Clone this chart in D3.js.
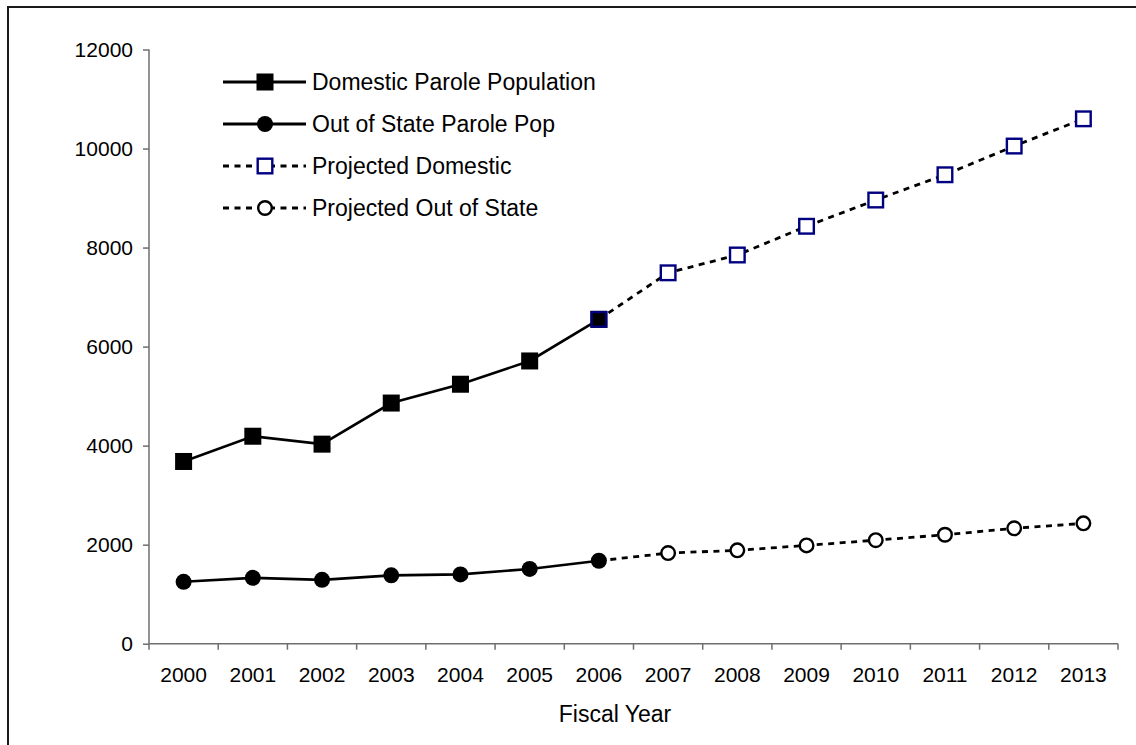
<!DOCTYPE html>
<html>
<head>
<meta charset="utf-8">
<script src="https://cdn.jsdelivr.net/npm/d3@7"></script>
<style>
  html, body { margin: 0; padding: 0; background: #fff; }
  svg { display: block; }
  text { font-family: "Liberation Sans", Arial, sans-serif; fill: #000; }
</style>
</head>
<body>
<svg id="chart" width="1136" height="745"></svg>
<script>
// ---- data ----
const years = ["2000","2001","2002","2003","2004","2005","2006","2007","2008","2009","2010","2011","2012","2013"];
const domestic      = [3680, 4190, 4030, 4860, 5240, 5710, 6550, null, null, null, null, null, null, null];
const outOfState    = [1250, 1330, 1290, 1380, 1400, 1510, 1675, null, null, null, null, null, null, null];
const projDomestic  = [null, null, null, null, null, null, 6550, 7490, 7850, 8430, 8960, 9470, 10050, 10600];
const projOutState  = [null, null, null, null, null, null, 1675, 1830, 1885, 1985, 2090, 2200, 2330, 2430];
const yTicks = [0, 2000, 4000, 6000, 8000, 10000, 12000];
const legendLabels = ["Domestic Parole Population", "Out of State Parole Pop", "Projected Domestic", "Projected Out of State"];
const xTitle = "Fiscal Year";

// ---- layout ----
const svg = d3.select("#chart");
const pLeft = 149, pRight = 1118, pTop = 49.5, pBottom = 643.7;
const TICKFONT = 21, LEGFONT = 23;

// outer frame
svg.append("rect").attr("x", 8).attr("y", 7).attr("width", 1200).attr("height", 800)
  .attr("fill", "none").attr("stroke", "#1a1a1a").attr("stroke-width", 2);

const x = d3.scaleBand().domain(years).range([pLeft, pRight]).paddingInner(0).paddingOuter(0);
const y = d3.scaleLinear().domain([0, 12000]).range([pBottom, pTop]);
const cx = d => x(d) + x.bandwidth() / 2;

const axisColor = "#6e6e6e";

// y axis
const gy = svg.append("g").attr("transform", `translate(${pLeft},0)`)
  .call(d3.axisLeft(y).tickValues(yTicks).tickSize(6).tickPadding(10).tickFormat(d3.format("d")));
gy.select("path.domain").remove();
gy.selectAll(".tick line").attr("stroke", axisColor).attr("stroke-width", 1.5);
gy.selectAll(".tick text").attr("font-size", TICKFONT).attr("font-family", "Liberation Sans, Arial, sans-serif").attr("fill", "#000");
gy.append("line").attr("x1", 0).attr("x2", 0).attr("y1", pTop).attr("y2", pBottom)
  .attr("stroke", axisColor).attr("stroke-width", 1.5);

// x axis (labels at band centres, ticks at band boundaries)
const gx = svg.append("g").attr("transform", `translate(0,${pBottom})`)
  .call(d3.axisBottom(x).tickSize(0).tickPadding(23));
gx.select("path.domain").remove();
gx.selectAll(".tick text").attr("font-size", TICKFONT).attr("font-family", "Liberation Sans, Arial, sans-serif").attr("fill", "#000");
gx.append("line").attr("x1", pLeft).attr("x2", pRight).attr("y1", 0).attr("y2", 0)
  .attr("stroke", axisColor).attr("stroke-width", 1.5);
const boundaries = years.map(d => x(d)).concat([x(years[years.length - 1]) + x.bandwidth()]);
gx.selectAll("line.btick").data(boundaries).enter().append("line").attr("class", "btick")
  .attr("x1", d => d).attr("x2", d => d).attr("y1", 0).attr("y2", 6)
  .attr("stroke", axisColor).attr("stroke-width", 1.5);

// x title
svg.append("text").attr("x", 615).attr("y", 722).attr("text-anchor", "middle")
  .attr("font-size", LEGFONT).text(xTitle);

// ---- lines ----
const mk = arr => years.map((yr, i) => ({ yr, v: arr[i], i }));
const lineGen = d3.line().defined(d => d.v != null).x(d => cx(d.yr)).y(d => y(d.v));

const DASH = "6,5.5";
svg.append("path").datum(mk(projDomestic)).attr("d", lineGen)
  .attr("fill", "none").attr("stroke", "#000").attr("stroke-width", 2.8).attr("stroke-dasharray", DASH);
svg.append("path").datum(mk(projOutState)).attr("d", lineGen)
  .attr("fill", "none").attr("stroke", "#000").attr("stroke-width", 2.8).attr("stroke-dasharray", DASH);
svg.append("path").datum(mk(domestic)).attr("d", lineGen)
  .attr("fill", "none").attr("stroke", "#000").attr("stroke-width", 2.6);
svg.append("path").datum(mk(outOfState)).attr("d", lineGen)
  .attr("fill", "none").attr("stroke", "#000").attr("stroke-width", 2.6);

// ---- markers ----
const SQ = 17, R = 8, NAVY = "#000080";
svg.selectAll("rect.dom").data(mk(domestic).filter(d => d.v != null)).enter().append("rect")
  .attr("x", d => cx(d.yr) - SQ / 2).attr("y", d => y(d.v) - SQ / 2)
  .attr("width", SQ).attr("height", SQ).attr("fill", "#000");
svg.selectAll("circle.oos").data(mk(outOfState).filter(d => d.v != null)).enter().append("circle")
  .attr("cx", d => cx(d.yr)).attr("cy", d => y(d.v)).attr("r", R).attr("fill", "#000");

svg.selectAll("rect.pdom").data(mk(projDomestic).filter(d => d.v != null)).enter().append("rect")
  .attr("x", d => cx(d.yr) - (SQ - 2.4) / 2).attr("y", d => y(d.v) - (SQ - 2.4) / 2)
  .attr("width", SQ - 2.4).attr("height", SQ - 2.4)
  .attr("fill", d => domestic[d.i] != null ? "none" : "#fff")
  .attr("stroke", NAVY).attr("stroke-width", 2.4);
svg.selectAll("circle.poos").data(mk(projOutState).filter(d => d.v != null && outOfState[d.i] == null)).enter().append("circle")
  .attr("cx", d => cx(d.yr)).attr("cy", d => y(d.v)).attr("r", R - 1.2)
  .attr("fill", "#fff").attr("stroke", "#000").attr("stroke-width", 2.4);

// ---- legend ----
const legY = [82, 124, 166, 208];
const lg = svg.append("g");
legendLabels.forEach((lab, i) => {
  const yy = legY[i];
  const dashed = i >= 2;
  lg.append("line").attr("x1", 223).attr("x2", 306).attr("y1", yy).attr("y2", yy)
    .attr("stroke", "#000").attr("stroke-width", 2.8)
    .attr("stroke-dasharray", dashed ? DASH : null);
  if (i === 0) lg.append("rect").attr("x", 265 - SQ / 2).attr("y", yy - SQ / 2).attr("width", SQ).attr("height", SQ).attr("fill", "#000");
  if (i === 1) lg.append("circle").attr("cx", 265).attr("cy", yy).attr("r", R).attr("fill", "#000");
  if (i === 2) lg.append("rect").attr("x", 265 - (SQ - 2.4) / 2).attr("y", yy - (SQ - 2.4) / 2).attr("width", SQ - 2.4).attr("height", SQ - 2.4)
    .attr("fill", "#fff").attr("stroke", NAVY).attr("stroke-width", 2.4);
  if (i === 3) lg.append("circle").attr("cx", 265).attr("cy", yy).attr("r", R - 1.2)
    .attr("fill", "#fff").attr("stroke", "#000").attr("stroke-width", 2.4);
  lg.append("text").attr("x", 312).attr("y", yy).attr("dy", "0.35em").attr("font-size", LEGFONT).text(lab);
});
</script>
</body>
</html>
